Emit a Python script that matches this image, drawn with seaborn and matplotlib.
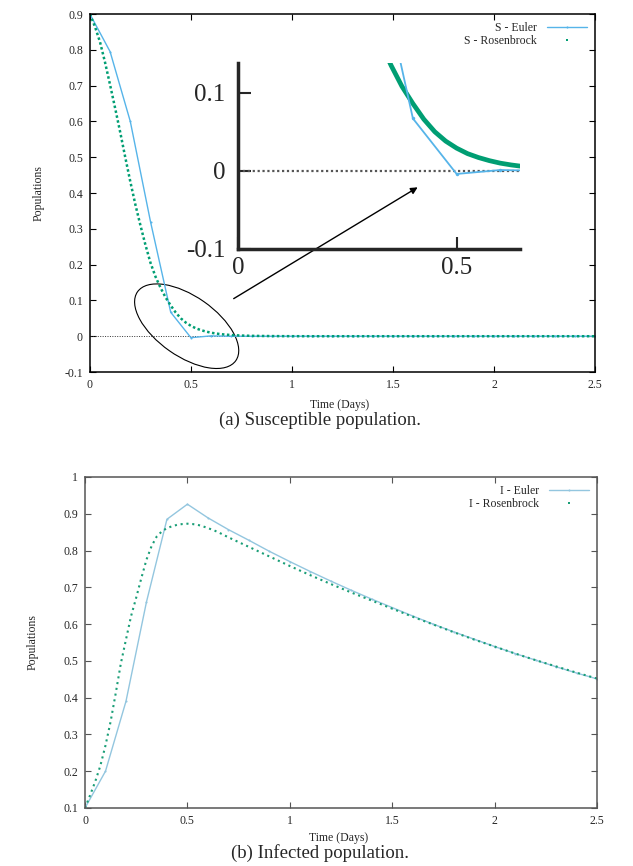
import pandas as pd
import seaborn as sns
import matplotlib.pyplot as plt
from matplotlib.lines import Line2D
from matplotlib.patches import Ellipse
from matplotlib.transforms import ScaledTranslation

# Euler, fixed step of 0.1 day
t_euler = [0.0, 0.1, 0.2, 0.3, 0.4, 0.5, 0.6, 0.7, 0.8, 0.9, 1.0, 1.1, 1.2,
           1.3, 1.4, 1.5, 1.6, 1.7, 1.8, 1.9, 2.0, 2.1, 2.2, 2.3, 2.4, 2.5]
s_euler = [0.9, 0.795, 0.60, 0.32, 0.067, -0.004, 0.001, 0.0, 0.0, 0.0, 0.0, 0.0, 0.0,
           0.0, 0.0, 0.0, 0.0, 0.0, 0.0, 0.0, 0.0, 0.0, 0.0, 0.0, 0.0, 0.0]
i_euler = [0.1, 0.2, 0.39, 0.66, 0.885, 0.926, 0.889, 0.857, 0.828, 0.798, 0.770, 0.743, 0.717,
           0.692, 0.668, 0.645, 0.622, 0.600, 0.579, 0.559, 0.539, 0.520, 0.502, 0.484, 0.467, 0.451]

# Rosenbrock samples
t_ros = [0.0, 0.025, 0.05, 0.075, 0.1, 0.125, 0.15, 0.175, 0.2, 0.225, 0.25, 0.275, 0.3,
         0.325, 0.35, 0.375, 0.4, 0.425, 0.45, 0.475, 0.5, 0.525, 0.55, 0.575, 0.6, 0.625,
         0.65, 0.675, 0.7, 0.75, 0.8, 0.85, 0.9, 0.95, 1.0, 1.1, 1.2, 1.3, 1.4, 1.5, 1.6,
         1.7, 1.8, 1.9, 2.0, 2.1, 2.2, 2.3, 2.4, 2.5]
s_ros = [0.900, 0.865, 0.822, 0.765, 0.702, 0.637, 0.570, 0.500, 0.432, 0.368, 0.310, 0.255, 0.205,
         0.166, 0.135, 0.108, 0.086, 0.066, 0.050, 0.038, 0.029, 0.022, 0.017, 0.013, 0.0098, 0.0075,
         0.0057, 0.0044, 0.0033, 0.0019, 0.0011, 0.0007, 0.0004, 0.0002, 0.0001, 0.0, 0.0, 0.0, 0.0,
         0.0, 0.0, 0.0, 0.0, 0.0, 0.0, 0.0, 0.0, 0.0, 0.0, 0.0]
i_ros = [0.100, 0.135, 0.172, 0.215, 0.270, 0.335, 0.412, 0.493, 0.558, 0.622, 0.672, 0.725, 0.775,
         0.812, 0.838, 0.852, 0.861, 0.866, 0.870, 0.872, 0.873, 0.872, 0.870, 0.866, 0.861, 0.856,
         0.850, 0.843, 0.836, 0.823, 0.810, 0.797, 0.784, 0.771, 0.758, 0.733, 0.709, 0.686, 0.664,
         0.642, 0.620, 0.599, 0.578, 0.558, 0.539, 0.520, 0.502, 0.485, 0.468, 0.452]

df_e = pd.DataFrame({"t": t_euler, "S": s_euler, "I": i_euler})
df_r = pd.DataFrame({"t": t_ros, "S": s_ros, "I": i_ros})

sns.set_style("ticks")
plt.rcParams['font.family'] = ['Liberation Serif', 'DejaVu Serif']

BLUE = "#56b4e9"
BLUE2 = "#93c6df"
GREEN = "#009e73"

fig = plt.figure(figsize=(6.33, 8.66), dpi=100)
ax1 = fig.add_axes([0.142, 0.5704, 0.798, 0.4134])
ax2 = fig.add_axes([0.1343, 0.067, 0.8088, 0.3822])


def style_axes(ax, spine_color, yticks):
    ax.set_xlim(0, 2.5)
    ax.set_xticks([0, 0.5, 1, 1.5, 2, 2.5])
    ax.set_xticklabels(["0", "0.5", "1", "1.5", "2", "2.5"])
    ax.set_yticks(yticks)
    ax.set_yticklabels([f"{v:g}" for v in yticks])
    ax.tick_params(direction="in", top=True, right=True, length=4, width=0.8,
                   labelsize=8.5, pad=5, color=spine_color)
    for sp in ax.spines.values():
        sp.set_visible(True)
        sp.set_color(spine_color)
        sp.set_linewidth(1.1)
    ax.set_xlabel("Time (Days)", fontsize=8.5)
    ax.set_ylabel("Populations", fontsize=8.5)
    ax.xaxis.set_label_coords(0.495, -0.075)
    ax.yaxis.set_label_coords(-0.09, 0.5)


# ---- (a) susceptible ----
ax1.axhline(0, color="#333333", lw=0.7, ls=(0, (1, 1.5)))
sns.lineplot(data=df_e, x="t", y="S", ax=ax1, color=BLUE, lw=1.0, marker=".",
             markersize=3, markeredgewidth=0, legend=False)
sns.lineplot(data=df_r, x="t", y="S", ax=ax1, color=GREEN, lw=1.8,
             linestyle=(0, (1, 1.0)), legend=False)
ax1.set_ylim(-0.1, 0.9)
style_axes(ax1, "black", [-0.1, 0, 0.1, 0.2, 0.3, 0.4, 0.5, 0.6, 0.7, 0.8, 0.9])

h1 = [Line2D([], [], color=BLUE, lw=1.0, marker=".", ms=3, mew=0),
      Line2D([], [], color=GREEN, ls="none", marker="s", ms=1.5, mew=0)]
ax1.legend(h1, ["S - Euler", "S - Rosenbrock"], loc="upper right", frameon=False,
           markerfirst=False, fontsize=8.5, handlelength=3.4, labelspacing=0.05,
           borderaxespad=0.3, handletextpad=0.8)

# ellipse around the dip and arrow to the zoom
ell = Ellipse((0, 0), width=1.2, height=0.6, angle=-35, fill=False, lw=0.8,
              edgecolor="black",
              transform=fig.dpi_scale_trans + ScaledTranslation(0.479, 0.028, ax1.transData))
ax1.add_patch(ell)
ax1.annotate("", xy=(1.634, 0.42), xytext=(0.70, 0.101),
             arrowprops=dict(arrowstyle="-|>", color="black", lw=1.0, mutation_scale=10))

# inset
axin = fig.add_axes([0.376, 0.7125, 0.4455, 0.2148])
axin.set_facecolor("none")
axin.axhline(0, color="#555555", lw=1.6, ls=(0, (1, 1.2)))
sns.lineplot(data=df_r, x="t", y="S", ax=axin, color=GREEN, lw=3.4, legend=False)
sns.lineplot(data=df_e, x="t", y="S", ax=axin, color=BLUE, lw=1.3, marker=".",
             markersize=5, markeredgewidth=0, legend=False)
axin.set_xlim(0, 0.645)
axin.set_ylim(-0.1, 0.138)
axin.set_xticks([0, 0.5])
axin.set_xticklabels(["0", "0.5"])
axin.set_yticks([-0.1, 0, 0.1])
axin.set_yticklabels(["-0.1", "0", "0.1"])
axin.tick_params(direction="in", length=9, width=1.5, labelsize=18, pad=9)
axin.tick_params(axis="x", pad=6)
axin.spines["top"].set_visible(False)
axin.spines["right"].set_visible(False)
axin.spines["left"].set_linewidth(2.5)
axin.spines["bottom"].set_linewidth(2.5)
axin.set_xlabel("")
axin.set_ylabel("")

# ---- (b) infected ----
sns.lineplot(data=df_e, x="t", y="I", ax=ax2, color=BLUE2, lw=1.0, marker=".",
             markersize=3, markeredgewidth=0, legend=False)
sns.lineplot(data=df_r, x="t", y="I", ax=ax2, color="#1a9e77", lw=1.5,
             linestyle=(0, (1, 1.8)), legend=False)
ax2.set_ylim(0.1, 1.0)
style_axes(ax2, "#555555", [0.1, 0.2, 0.3, 0.4, 0.5, 0.6, 0.7, 0.8, 0.9, 1])
ax2.xaxis.set_label_coords(0.495, -0.072)

h2 = [Line2D([], [], color=BLUE2, lw=1.0, marker=".", ms=3, mew=0),
      Line2D([], [], color="#1a9e77", ls="none", marker="s", ms=1.5, mew=0)]
ax2.legend(h2, ["I - Euler", "I - Rosenbrock"], loc="upper right", frameon=False,
           markerfirst=False, fontsize=8.5, handlelength=3.4, labelspacing=0.05,
           borderaxespad=0.3, handletextpad=0.8)

fig.text(0.505, 0.515, "(a) Susceptible population.", ha="center", va="center", fontsize=13.5)
fig.text(0.505, 0.015, "(b) Infected population.", ha="center", va="center", fontsize=13.5)

fig.savefig("out.png", dpi=100)
